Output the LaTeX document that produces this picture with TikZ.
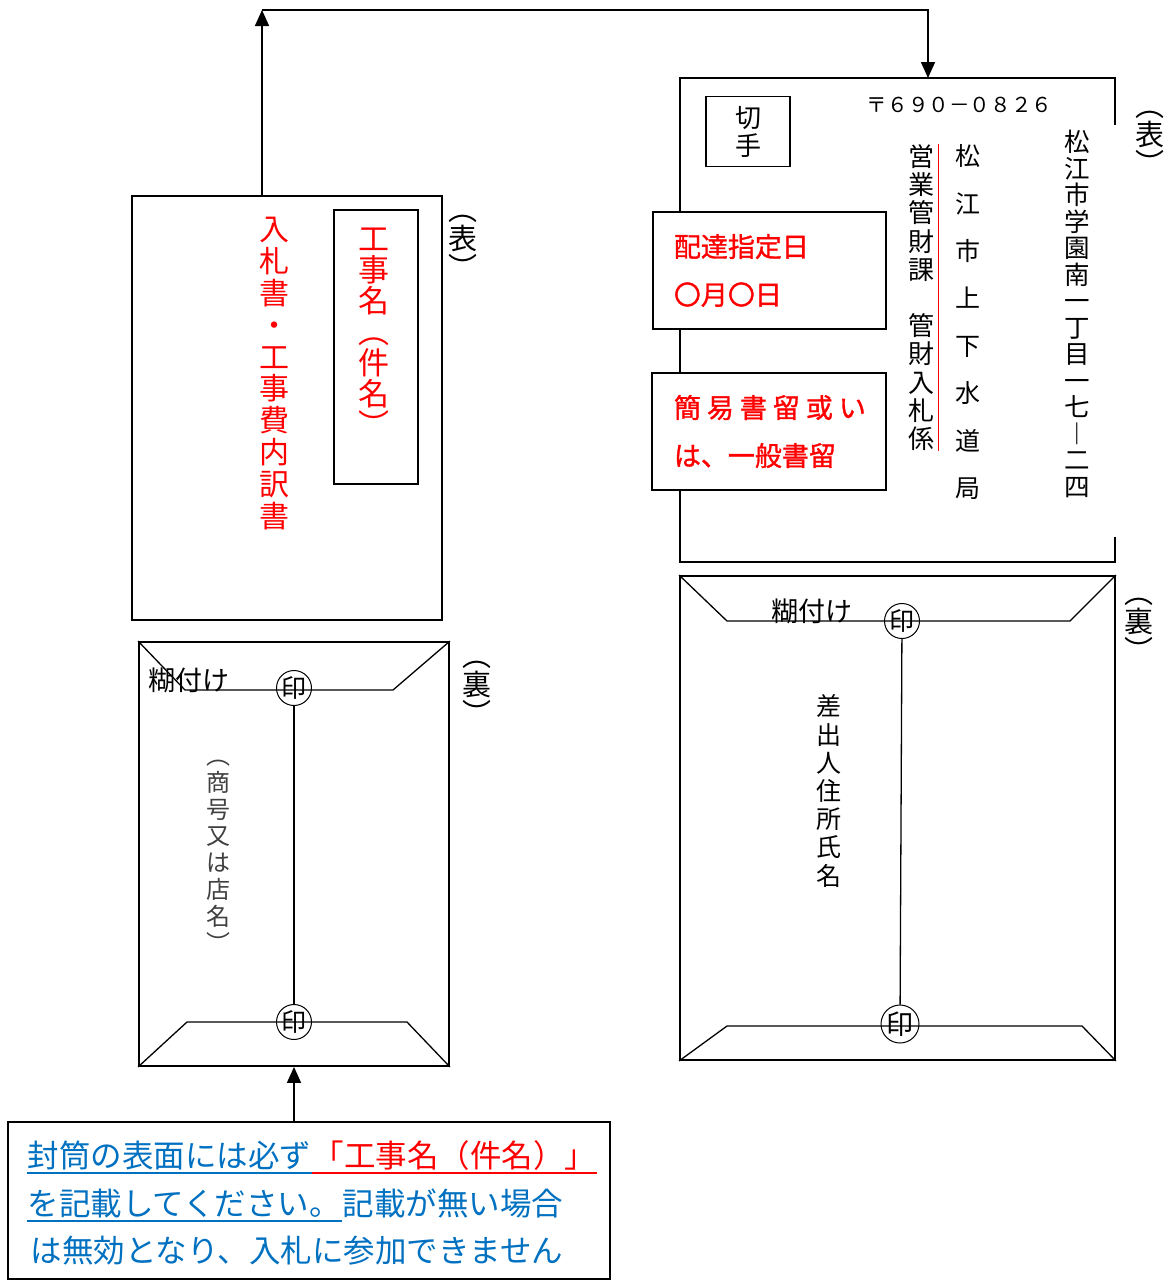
\documentclass[tikz,border=0pt]{standalone}
\usepackage{fontspec}
\setmainfont{Noto Sans CJK JP}
\newfontfamily\redfont[FakeBold=1.2]{Noto Sans CJK JP}
\usetikzlibrary{arrows.meta,positioning}
\definecolor{noteblue}{HTML}{0070C0}

% size and line pitch for text set top to bottom
\newcommand{\vtsize}[2]{\fontsize{#1}{#2}\selectfont\lineskiplimit=-50pt\lineskip=0pt}
\newcommand{\notefont}{\fontsize{31.5}{31.5}\selectfont}

\begin{document}
\begin{tikzpicture}[x=1pt,y=-1pt,line width=1.6pt,>={Triangle[length=16pt,width=14pt]},
                    every node/.style={inner sep=0pt}]
  \tikzstyle{envbox}=[draw,line width=1.8pt]
  \tikzstyle{flap}=[line width=1.3pt]
  \tikzstyle{vtext}=[align=center]
  \tikzstyle{side}=[align=center,font=\vtsize{29}{29}]
  \tikzstyle{seal}=[draw,circle,line width=1pt,minimum size=35pt,font=\fontsize{25}{25}\selectfont]
  \tikzstyle{redbox}=[draw,fill=white,line width=1.8pt,minimum width=233pt,minimum height=117pt]
  \tikzstyle{redtext}=[text=red,align=left,font=\redfont\fontsize{27}{48}\selectfont]
  \tikzstyle{glue}=[font=\fontsize{27}{27}\selectfont]

  \useasboundingbox (0,0) rectangle (1172,1280);

  % front, left
  \node[envbox,minimum width=310pt,minimum height=424pt] (front1) at (287,408) {};
  \node[envbox,minimum width=84pt,minimum height=274pt] (titlebox) at (376,347) {};
  \node[vtext,text=red,font=\vtsize{31}{31}] (kenmei) at (374,332) {工\\事\\名\\︵\\件\\名\\︶};
  \node[vtext,text=red,font=\vtsize{30}{31.8}] (nyusatsu) at (274,373.5)
    {入\\札\\書\\・\\工\\事\\費\\内\\訳\\書};
  \node[side] (omote1) at (463,247) {︵\\表\\︶};

  % back, left
  \node[envbox,minimum width=310pt,minimum height=424pt] (back1) at (294,854) {};
  \draw[flap] (back1.north west) -- (185,690) -- (393,690) -- (back1.north east);
  \draw[flap] (back1.south west) -- (187,1022) -- (407,1022) -- (back1.south east);
  \node[seal] (seal1) at (294,688) {印};
  \node[seal] (seal2) at (294,1022) {印};
  \draw[flap] (seal1) -- (seal2);
  \node[glue] (glue1) at (189,680) {糊付け};
  \node[vtext,text=black!75,font=\vtsize{24}{26.8}] (shogo) at (218,856)
    {︵\\商\\号\\又\\は\\店\\名\\︶};
  \node[side] (ura1) at (477,693) {︵\\裏\\︶};

  % front, right
  \draw[envbox] (1115,125) -- (1115,78) -- (680,78) -- (680,562) -- (1115,562) -- (1115,537);
  \coordinate (front2) at (928,78);
  \node[envbox,line width=1.5pt,minimum width=84pt,minimum height=70pt,
        align=center,font=\vtsize{26}{28}] (kitte) at (748,131.5) {切\\手};
  \node[redbox] (delivery) at (769.5,270.5) {};
  \node[redtext,anchor=west] (deliverytxt) at ([xshift=21pt]delivery.west)
    {配達指定日\\〇月〇日};
  \node[redbox,minimum width=234pt] (registered) at (769,431.5) {};
  \node[redtext,anchor=west] (registeredtxt) at ([xshift=22pt]registered.west)
    {簡\hspace{6pt}易\hspace{6pt}書\hspace{6pt}留\hspace{6pt}或\hspace{6pt}い\\は、一般書留};
  \node[font=\fontsize{20.6}{20.6}\selectfont] (zip) at (959.5,104.5) {〒６９０－０８２６};
  \node[vtext,font=\vtsize{25.5}{26.5}] (address) at (1077,314)
    {松\\江\\市\\学\\園\\南\\一\\丁\\目\\一\\七\\︱\\二\\四};
  \node[vtext,font=\vtsize{25}{47.4}] (bureau) at (968,322) {松\\江\\市\\上\\下\\水\\道\\局};
  \node[vtext,font=\vtsize{26}{28.2}] (section) at (921,297.5)
    {営\\業\\管\\財\\課\\　\\管\\財\\入\\札\\係};
  \draw[red] ([xshift=3.5pt]section.north east) -- ([xshift=3.5pt]section.south east);
  \node[side] (omote2) at (1150,143) {︵\\表\\︶};

  % back, right
  \node[envbox,minimum width=435pt,minimum height=484pt] (back2) at (897.5,818) {};
  \draw[flap] (back2.north west) -- (727,621) -- (1070,621) -- (back2.north east);
  \draw[flap] (back2.south west) -- (727,1026) -- (1082,1026) -- (back2.south east);
  \node[seal] (seal3) at (902,621) {印};
  \node[seal,minimum size=38pt,font=\fontsize{27}{27}\selectfont] (seal4) at (900,1024) {印};
  \draw[flap] (seal3) -- (seal4);
  \node[glue] (glue2) at (812,611) {糊付け};
  \node[vtext,font=\vtsize{25}{28.2}] (sender) at (829,791) {差\\出\\人\\住\\所\\氏\\名};
  \node[side] (ura2) at (1139,630) {︵\\裏\\︶};

  % arrows
  \coordinate (turnL) at (262,10);
  \coordinate (turnR) at (928,10);
  \draw[->] (front1.north -| turnL) -- (turnL);
  \draw[->] (turnL) -- (turnR) -- (front2);

  % note
  \node[draw,minimum width=602pt,minimum height=157pt] (note) at (309,1200.5) {};
  \draw[->] (note.north -| back1.south) -- (back1.south);
  \node[anchor=base west,text=noteblue,font=\notefont] (line1a) at (27,1167) {封筒の表面には必ず};
  \node[anchor=base west,text=red,font=\notefont] (line1b) at (line1a.base east) {「工事名（件名）」};
  \node[anchor=base west,text=noteblue,font=\notefont] (line2a) at (27,1215) {を記載してください。};
  \node[anchor=base west,text=noteblue,font=\notefont] (line2b) at (line2a.base east) {記載が無い場合};
  \node[anchor=base west,text=noteblue,font=\notefont] (line3) at (30,1262) {は無効となり、入札に参加できません};
  \draw[noteblue] ([yshift=-6pt]line1a.base west) -- ([yshift=-6pt]line1a.base east);
  \draw[red] ([yshift=-6pt]line1b.base west) -- ([yshift=-6pt]line1b.base east);
  \draw[noteblue] ([yshift=-6pt]line2a.base west) -- ([yshift=-6pt]line2a.base east);
\end{tikzpicture}
\end{document}
